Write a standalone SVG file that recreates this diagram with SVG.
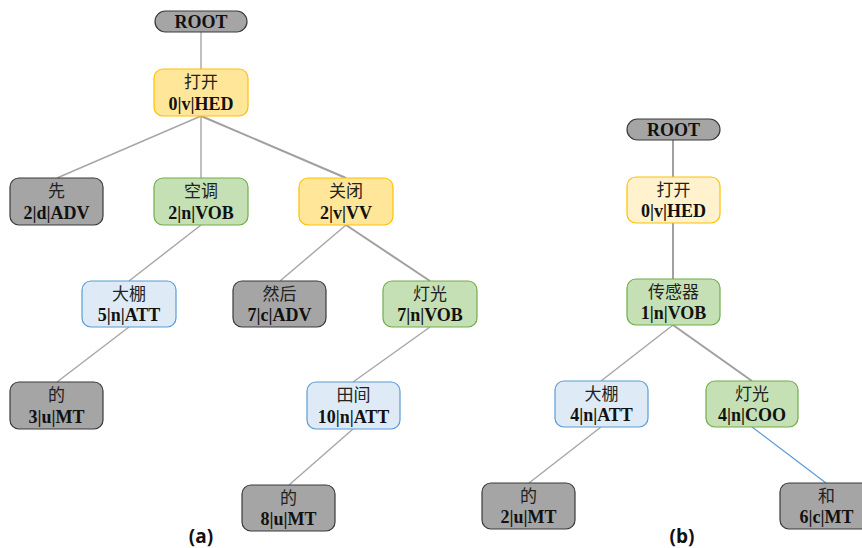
<svg xmlns="http://www.w3.org/2000/svg" width="862" height="548" viewBox="0 0 862 548">
  <style>
    .box { stroke-width: 1.2; }
    .gray { fill: #a5a5a5; stroke: #3a3a3a; }
    .yellow { fill: #ffe699; stroke: #ffc000; }
    .pale { fill: #fff2cc; stroke: #ffc000; }
    .green { fill: #c5e0b4; stroke: #70ad47; }
    .blue { fill: #deebf7; stroke: #5b9bd5; }
    .word { font-family: "Noto Sans CJK SC", "Noto Sans", sans-serif; font-size: 17px; fill: #222; text-anchor: middle; }
    .tag { font-family: "Liberation Serif", "Times New Roman", "DejaVu Serif", serif; font-size: 18px; font-weight: 700; fill: #111; text-anchor: middle; }
    .cap { font-family: "Open Sans", "Liberation Sans", sans-serif; font-size: 19px; font-weight: bold; fill: #111; text-anchor: middle; }
    .edge { stroke: #a6a6a6; stroke-width: 1.4; fill: none; }
    .strong { stroke: #a0a0a0; stroke-width: 2; fill: none; }
    .coo { stroke: #5b9bd5; stroke-width: 1.2; fill: none; }
  </style>

  <g id="connectors">
    <!-- tree (a) -->
    <line class="edge" x1="201" y1="32" x2="201" y2="69"/>
    <line class="edge" x1="201" y1="116" x2="57" y2="178"/>
    <line class="edge" x1="201" y1="116" x2="201" y2="178"/>
    <line class="strong" x1="201" y1="116" x2="346" y2="178"/>
    <line class="edge" x1="201" y1="225" x2="129" y2="281"/>
    <line class="edge" x1="346" y1="225" x2="280" y2="281"/>
    <line class="strong" x1="346" y1="225" x2="430" y2="281"/>
    <line class="edge" x1="129" y1="327" x2="57" y2="382"/>
    <line class="edge" x1="430" y1="327" x2="353" y2="382"/>
    <line class="edge" x1="353" y1="429" x2="289" y2="485"/>
    <!-- tree (b) -->
    <line class="strong" x1="673" y1="140" x2="673" y2="177"/>
    <line class="strong" x1="673" y1="223" x2="673" y2="279"/>
    <line class="edge" x1="673" y1="325" x2="601" y2="381"/>
    <line class="strong" x1="673" y1="325" x2="752" y2="381"/>
    <line class="edge" x1="601" y1="427" x2="529" y2="483"/>
    <line class="coo" x1="752" y1="427" x2="826" y2="483"/>
  </g>

  <!-- tree (a) nodes -->
  <g id="a-root">
    <rect class="box gray" x="155" y="11" width="92" height="21" rx="10.5"/>
    <text class="tag" x="201" y="27.5">ROOT</text>
  </g>
  <g id="a-dakai">
    <rect class="box yellow" x="154" y="69" width="94" height="47" rx="9"/>
    <text class="word" x="201" y="88">打开</text>
    <text class="tag" x="201" y="110">0|v|HED</text>
  </g>
  <g id="a-xian">
    <rect class="box gray" x="10" y="178" width="93" height="47" rx="9"/>
    <text class="word" x="56.5" y="197">先</text>
    <text class="tag" x="56.5" y="219">2|d|ADV</text>
  </g>
  <g id="a-kongtiao">
    <rect class="box green" x="154" y="178" width="94" height="47" rx="9"/>
    <text class="word" x="201" y="197">空调</text>
    <text class="tag" x="201" y="219">2|n|VOB</text>
  </g>
  <g id="a-guanbi">
    <rect class="box yellow" x="299" y="178" width="94" height="47" rx="9"/>
    <text class="word" x="346" y="197">关闭</text>
    <text class="tag" x="346" y="219">2|v|VV</text>
  </g>
  <g id="a-dapeng">
    <rect class="box blue" x="82" y="281" width="94" height="46" rx="9"/>
    <text class="word" x="129" y="300">大棚</text>
    <text class="tag" x="129" y="321">5|n|ATT</text>
  </g>
  <g id="a-ranhou">
    <rect class="box gray" x="233" y="281" width="93" height="46" rx="9"/>
    <text class="word" x="279.5" y="300">然后</text>
    <text class="tag" x="279.5" y="321">7|c|ADV</text>
  </g>
  <g id="a-dengguang">
    <rect class="box green" x="383" y="281" width="94" height="46" rx="9"/>
    <text class="word" x="430" y="300">灯光</text>
    <text class="tag" x="430" y="321">7|n|VOB</text>
  </g>
  <g id="a-de3">
    <rect class="box gray" x="10" y="382" width="93" height="47" rx="9"/>
    <text class="word" x="56.5" y="401">的</text>
    <text class="tag" x="56.5" y="423">3|u|MT</text>
  </g>
  <g id="a-tianjian">
    <rect class="box blue" x="307" y="382" width="93" height="47" rx="9"/>
    <text class="word" x="353.5" y="401">田间</text>
    <text class="tag" x="353.5" y="423">10|n|ATT</text>
  </g>
  <g id="a-de8">
    <rect class="box gray" x="242" y="485" width="93" height="46" rx="9"/>
    <text class="word" x="288.5" y="504">的</text>
    <text class="tag" x="288.5" y="525">8|u|MT</text>
  </g>
  <text class="cap" x="201" y="543">(a)</text>

  <!-- tree (b) nodes -->
  <g id="b-root">
    <rect class="box gray" x="627" y="119" width="93" height="21" rx="10.5"/>
    <text class="tag" x="673.5" y="135.5">ROOT</text>
  </g>
  <g id="b-dakai">
    <rect class="box pale" x="627" y="177" width="93" height="46" rx="9"/>
    <text class="word" x="673.5" y="196">打开</text>
    <text class="tag" x="673.5" y="217">0|v|HED</text>
  </g>
  <g id="b-chuanganqi">
    <rect class="box green" x="627" y="279" width="93" height="46" rx="9"/>
    <text class="word" x="673.5" y="298">传感器</text>
    <text class="tag" x="673.5" y="319">1|n|VOB</text>
  </g>
  <g id="b-dapeng">
    <rect class="box blue" x="555" y="381" width="93" height="46" rx="9"/>
    <text class="word" x="601.5" y="400">大棚</text>
    <text class="tag" x="601.5" y="421">4|n|ATT</text>
  </g>
  <g id="b-dengguang">
    <rect class="box green" x="706" y="381" width="92" height="46" rx="9"/>
    <text class="word" x="752" y="400">灯光</text>
    <text class="tag" x="752" y="421">4|n|COO</text>
  </g>
  <g id="b-de2">
    <rect class="box gray" x="482" y="483" width="93" height="46" rx="9"/>
    <text class="word" x="528.5" y="502">的</text>
    <text class="tag" x="528.5" y="523">2|u|MT</text>
  </g>
  <g id="b-he">
    <rect class="box gray" x="780" y="483" width="93" height="46" rx="9"/>
    <text class="word" x="826.5" y="502">和</text>
    <text class="tag" x="826.5" y="523">6|c|MT</text>
  </g>
  <text class="cap" x="682" y="543">(b)</text>
</svg>
